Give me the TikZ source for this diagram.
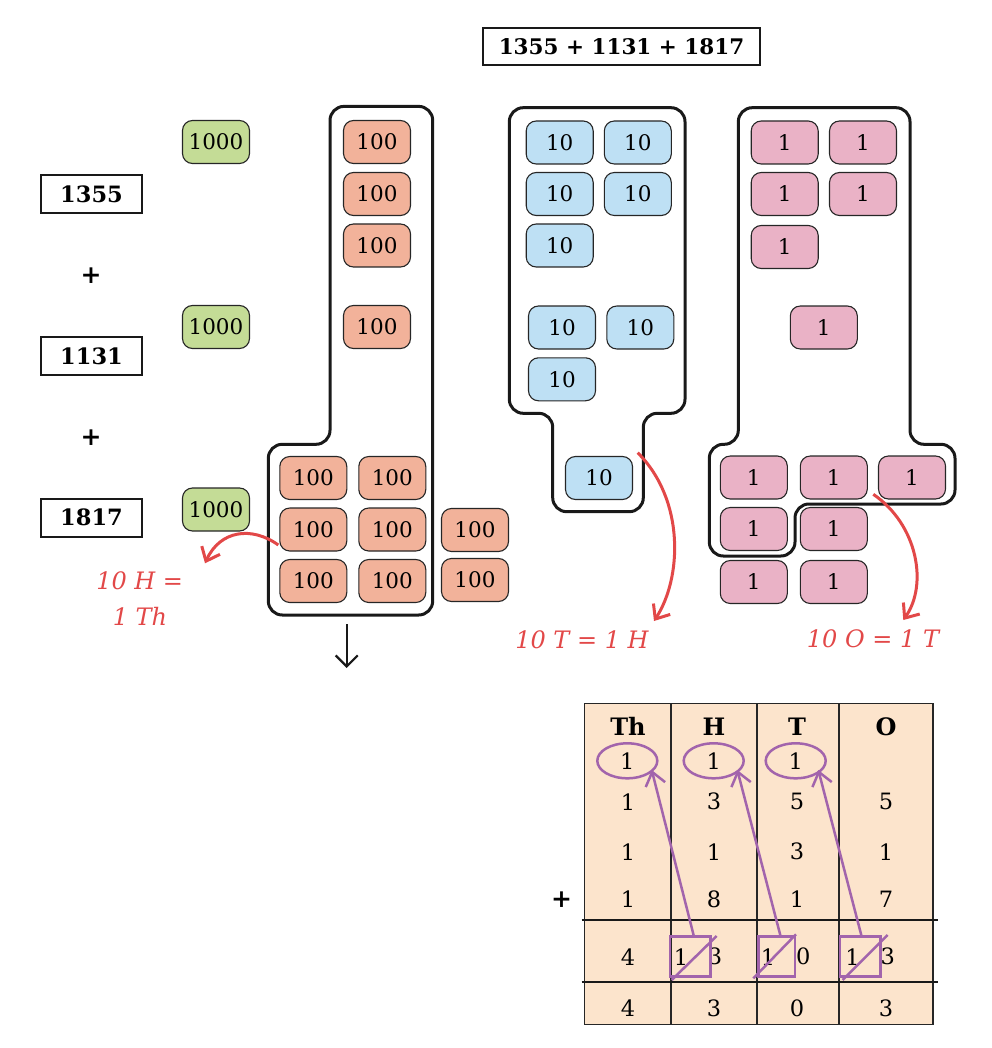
\documentclass[tikz,border=0pt]{standalone}
\usepackage{fontspec}
\setmainfont{DejaVu Serif}
\usetikzlibrary{arrows.meta,shapes.geometric}
\definecolor{grn}{RGB}{196,220,150}
\definecolor{sal}{RGB}{242,178,154}
\definecolor{blu}{RGB}{190,224,244}
\definecolor{pnk}{RGB}{234,178,198}
\definecolor{redc}{RGB}{226,72,72}
\definecolor{purc}{RGB}{162,100,172}
\definecolor{peach}{RGB}{252,228,204}
\begin{document}
\begin{tikzpicture}[x=1pt,y=-1pt,
  blk/.style={draw=black!85, line width=1.1pt, rounded corners=10pt, minimum width=67pt, minimum height=43pt, inner sep=0pt, font=\fontsize{21.5}{21.5}\selectfont},
  thou/.style={blk, fill=grn},
  hund/.style={blk, fill=sal},
  ten/.style={blk, fill=blu},
  one/.style={blk, fill=pnk},
  cont/.style={draw=black!90, line width=3pt, rounded corners=14pt},
  numbox/.style={draw=black!90, line width=2pt, minimum width=101pt, minimum height=38pt, inner sep=0pt, font=\fontsize{22.5}{22.5}\selectfont\bfseries},
  plus/.style={inner sep=0pt, font=\fontsize{25}{25}\selectfont\bfseries},
  redlbl/.style={text=redc, inner sep=0pt, font=\fontsize{24}{24}\selectfont\itshape},
  redarr/.style={draw=redc, line width=3pt, -{Straight Barb[length=12pt,width=20pt]}},
  purp/.style={draw=purc, line width=2.5pt},
  parr/.style={purp, -{Straight Barb[length=13pt,width=20pt]}},
  cell/.style={inner sep=0pt, font=\fontsize{22.5}{22.5}\selectfont},
  hcell/.style={inner sep=0pt, font=\fontsize{24}{24}\selectfont\bfseries},
  tline/.style={draw=black!85, line width=1.6pt},
  carry/.style={ellipse, purp, minimum width=60pt, minimum height=35pt, inner sep=0pt, font=\fontsize{22.5}{22.5}\selectfont}
]
\useasboundingbox (0,0) rectangle (991,1048);

% header
\node[draw=black!90, line width=2.5pt, minimum width=277pt, minimum height=37pt, inner sep=0pt, font=\fontsize{21.5}{21.5}\selectfont\bfseries] (head) at (621.5,46.5) {1355 + 1131 + 1817};

% left numbers
\node[numbox] (n1) at (91.5,194) {1355};
\node[plus] (p1) at (91,275.7) {+};
\node[numbox] (n2) at (91.5,356) {1131};
\node[plus] (p2) at (91,437.7) {+};
\node[numbox] (n3) at (91.5,517.5) {1817};

% thousands
\node[thou] (g1) at (216,142) {1000};
\node[thou] (g2) at (216,327) {1000};
\node[thou] (g3) at (216,509.5) {1000};

% containers
\draw[cont] (330,300) -- (330,106.4) -- (432.7,106.4) -- (432.7,615) -- (268.3,615) -- (268.3,444.3) -- (330,444.3) -- cycle;
\draw[cont] (509.3,300) -- (509.3,107.7) -- (685,107.7) -- (685,413.3) -- (643.3,413.3) -- (643.3,511.7) -- (552.7,511.7) -- (552.7,413.3) -- (509.3,413.3) -- cycle;
\draw[cont] (738.3,300) -- (738.3,107.7) -- (910,107.7) -- (910,444.3) -- (955,444.3) -- (955,504) -- (795,504) -- (795,556) -- (709.3,556) -- (709.3,444.3) -- (738.3,444.3) -- cycle;

% hundreds
\node[hund] (h1) at (377,142) {100};
\node[hund] (h2) at (377,194) {100};
\node[hund] (h3) at (377,245.5) {100};
\node[hund] (h4) at (377,327) {100};
\node[hund] (h5) at (313.3,478) {100};
\node[hund] (h6) at (392.3,478) {100};
\node[hund] (h7) at (313.3,529.5) {100};
\node[hund] (h8) at (392.3,529.5) {100};
\node[hund] (h9) at (313.3,581) {100};
\node[hund] (h10) at (392.3,581) {100};
\node[hund] (h11) at (475,530) {100};
\node[hund] (h12) at (475,580) {100};

% tens
\node[ten] (t1) at (559.7,142.5) {10};
\node[ten] (t2) at (637.8,142.5) {10};
\node[ten] (t3) at (559.7,194) {10};
\node[ten] (t4) at (637.8,194) {10};
\node[ten] (t5) at (559.7,245.5) {10};
\node[ten] (t6) at (562,327.5) {10};
\node[ten] (t7) at (640.3,327.5) {10};
\node[ten] (t8) at (562,379.3) {10};
\node[ten] (t9) at (599,478) {10};

% ones
\node[one] (o1) at (784.7,142.5) {1};
\node[one] (o2) at (863,142.5) {1};
\node[one] (o3) at (784.7,194) {1};
\node[one] (o4) at (863,194) {1};
\node[one] (o5) at (784.7,247) {1};
\node[one] (o6) at (823.8,327.5) {1};
\node[one] (o7) at (753.8,477.5) {1};
\node[one] (o8) at (833.8,477.5) {1};
\node[one] (o9) at (912,477.5) {1};
\node[one] (o10) at (753.8,529) {1};
\node[one] (o11) at (833.8,529) {1};
\node[one] (o12) at (753.8,582) {1};
\node[one] (o13) at (833.8,582) {1};

% down arrow
\coordinate (dA) at (346.7,624);
\coordinate (dB) at (346.7,668);
\draw[line width=2.2pt, draw=black!90, -{Straight Barb[length=11pt,width=22pt]}] (dA) -- (dB);

% red labels and arrows
\node[redlbl] (lh1) at (139.7,580.7) {10 H =};
\node[redlbl] (lh2) at (140,616.7) {1 Th};
\node[redlbl] (lt) at (582,640) {10 T = 1 H};
\node[redlbl] (lo) at (873,639) {10 O = 1 T};
\coordinate (hs) at (278.3,545);
\coordinate (he) at (205,563.3);
\coordinate (ts) at (637.7,452.7);
\coordinate (te) at (654,621);
\coordinate (os) at (873.3,494.3);
\coordinate (oe) at (903.3,620);
\draw[redarr] (hs) .. controls (252,526) and (220,530) .. (he);
\draw[redarr] (ts) .. controls (685,500) and (682,578) .. (te);
\draw[redarr] (os) .. controls (918,525) and (928,585) .. (oe);

% table
\path[fill=peach] (584.3,703.3) rectangle (932.7,1024.3);
\draw[tline] (584.3,703.3) rectangle (932.7,1024.3);
\draw[tline] (671,703.3) -- (671,1024.3);
\draw[tline] (756.7,703.3) -- (756.7,1024.3);
\draw[tline] (839,703.3) -- (839,1024.3);
\draw[line width=2pt, draw=black!90] (581.7,920) -- (938.3,920);
\draw[line width=2pt, draw=black!90] (581.7,982.3) -- (938.3,982.3);

\node[hcell] (hTh) at (628,726.7) {Th};
\node[hcell] (hH) at (714,726.7) {H};
\node[hcell] (hT) at (797,726.7) {T};
\node[hcell] (hO) at (886,726.7) {O};

\node[carry] (cTh) at (627.3,760.8) {1};
\node[carry] (cH) at (713.7,760.8) {1};
\node[carry] (cT) at (795.7,760.8) {1};

\node[cell] (a1) at (628,801.7) {1};
\node[cell] (a2) at (714,801.7) {3};
\node[cell] (a3) at (797,801.7) {5};
\node[cell] (a4) at (886,801.7) {5};
\node[cell] (b1) at (628,851.7) {1};
\node[cell] (b2) at (714,851.7) {1};
\node[cell] (b3) at (797,851.7) {3};
\node[cell] (b4) at (886,851.7) {1};
\node[plus] (p3) at (561.7,899.3) {+};
\node[cell] (c1) at (628,899.3) {1};
\node[cell] (c2) at (714,899.3) {8};
\node[cell] (c3) at (797,899.3) {1};
\node[cell] (c4) at (886,899.3) {7};

\node[cell] (s1) at (628,956.7) {4};
\node[cell] (s2a) at (681,956.7) {1};
\node[cell] (s2b) at (715,956.7) {3};
\node[cell] (s3a) at (768,956.7) {1};
\node[cell] (s3b) at (803.3,956.7) {0};
\node[cell] (s4a) at (852.5,956.7) {1};
\node[cell] (s4b) at (887.7,956.7) {3};

\node[cell] (f1) at (628,1008.3) {4};
\node[cell] (f2) at (714,1008.3) {3};
\node[cell] (f3) at (797,1008.3) {0};
\node[cell] (f4) at (886,1008.3) {3};

% purple squares, slashes and arrows
\node[purp, draw, minimum width=40.7pt, minimum height=40pt, inner sep=0pt] (qH) at (690.35,956.7) {};
\node[purp, draw, minimum width=36.7pt, minimum height=40pt, inner sep=0pt] (qT) at (776.65,956.7) {};
\node[purp, draw, minimum width=40.7pt, minimum height=40pt, inner sep=0pt] (qO) at (860.35,956.7) {};
\coordinate (xH1) at (671.7,980);
\coordinate (xH2) at (716.7,936);
\coordinate (xT1) at (753.3,978.3);
\coordinate (xT2) at (796,934.3);
\coordinate (xO1) at (842.7,980);
\coordinate (xO2) at (887.7,935);
\draw[purp] (xH1) -- (xH2);
\draw[purp] (xT1) -- (xT2);
\draw[purp] (xO1) -- (xO2);
\coordinate (aH) at (694,936.7);
\coordinate (aT) at (780.7,936.7);
\coordinate (aO) at (861.7,936.7);
\coordinate (eTh) at (651.7,770);
\coordinate (eH) at (737.3,770);
\coordinate (eT) at (818.3,770);
\draw[parr] (aH) -- (eTh);
\draw[parr] (aT) -- (eH);
\draw[parr] (aO) -- (eT);
\end{tikzpicture}
\end{document}
